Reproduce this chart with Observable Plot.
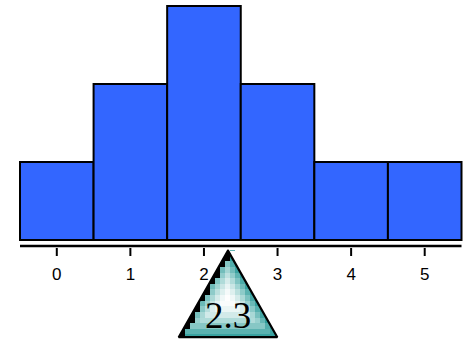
<!DOCTYPE html>
<html>
<head>
<meta charset="utf-8">
<script src="https://cdn.jsdelivr.net/npm/d3@7"></script>
<script src="https://cdn.jsdelivr.net/npm/@observablehq/plot@0.6"></script>
<style>html,body{margin:0;padding:0;background:#fff}svg{display:block}</style>
</head>
<body>
<div id="chart"></div>
<script>
const categories = [0, 1, 2, 3, 4, 5];
const counts = [1, 2, 3, 2, 1, 1];
const meanLabel = "2.3";
const pointerX = 2.32;
const pointerHalfBase = 0.67;
const pointerApexY = -0.13;
const pointerBaseY = -1.24;
const cellW = 0.068;
const cellH = 0.072;
const shades = ["#2f9d9b", "#6cbab8", "#a3d5d3", "#d0e9e8", "#f0f8f8", "#ffffff"];

const bars = categories.map((c, i) => ({x1: c - 0.5, x2: c + 0.5, y: counts[i]}));

const leftEdge = y => pointerX - pointerHalfBase * (pointerApexY - y) / (pointerApexY - pointerBaseY);
const rightEdge = y => pointerX + pointerHalfBase * (pointerApexY - y) / (pointerApexY - pointerBaseY);

const pxX = 73.6, pxY = 78;
const ramp = d3.piecewise(d3.interpolateRgb, shades);
const colorOf = (x, y) => {
  const dBase = (y - pointerBaseY) * pxY;
  const slope = pointerHalfBase * pxX / ((pointerApexY - pointerBaseY) * pxY);
  const norm = Math.sqrt(1 + slope * slope);
  const dSide = Math.min(x - leftEdge(y), rightEdge(y) - x) * pxX / norm;
  const t = Math.min(dBase / 36, dSide / 24);
  return ramp(Math.max(0, Math.min(1, t)));
};
const cells = [];
for (let r = 0; r * cellH < pointerApexY - pointerBaseY; r++) {
  const top = pointerApexY - r * cellH, bottom = Math.max(top - cellH, pointerBaseY);
  for (let k = -11; k <= 11; k++) {
    const l = pointerX + (k - 0.5) * cellW, ri = l + cellW;
    if (l >= leftEdge(top) + 0.015 && l <= rightEdge(bottom)) {
      cells.push({x1: l, x2: ri, y1: bottom, y2: top, fill: colorOf(l + cellW / 2, (top + bottom) / 2)});
    }
  }
}
const pointer = [
  {x: pointerX, y: pointerApexY},
  {x: pointerX + pointerHalfBase, y: pointerBaseY},
  {x: pointerX - pointerHalfBase, y: pointerBaseY},
  {x: pointerX, y: pointerApexY}
];
const mask = [
  {x: pointerX, y: pointerApexY},
  {x: pointerX + pointerHalfBase + 0.1, y: pointerApexY},
  {x: pointerX + pointerHalfBase + 0.1, y: pointerBaseY},
  {x: pointerX + pointerHalfBase, y: pointerBaseY},
  {x: pointerX, y: pointerApexY}
];

const chart = Plot.plot({
  width: 464,
  height: 339,
  marginTop: 0,
  marginRight: 0,
  marginLeft: 0,
  marginBottom: 91,
  style: {background: "#fff", overflow: "visible"},
  x: {type: "linear", domain: [-0.5, 5.5], range: [20, 461.5], axis: null},
  y: {domain: [0, 3], range: [240, 6], axis: null},
  marks: [
    Plot.rect(bars, {x1: "x1", x2: "x2", y1: 0, y2: "y", fill: "#3366ff", stroke: "#000", strokeWidth: 2}),
    Plot.ruleY([-0.07], {x1: -0.5, x2: 5.5, stroke: "#000", strokeWidth: 2.4}),
    Plot.line(pointer, {x: "x", y: "y", fill: "#000", stroke: null}),
    Plot.rect(cells, {x1: "x1", x2: "x2", y1: "y1", y2: "y2", fill: d => d.fill, shapeRendering: "crispEdges"}),
    Plot.line(mask, {x: "x", y: "y", fill: "#fff", stroke: null}),
    Plot.line(pointer, {x: "x", y: "y", stroke: "#000", strokeWidth: 2.2, strokeLinejoin: "miter"}),
    Plot.axisX({
      anchor: "bottom",
      ticks: categories,
      tickFormat: d => String(d),
      tickSize: 8,
      tickPadding: 11,
      strokeWidth: 2,
      fontSize: 17,
      fontFamily: "Liberation Sans",
      fill: "#000",
      dx: -0.5,
      label: null
    }),
    Plot.text([meanLabel], {
      x: pointerX,
      y: pointerBaseY + 0.27,
      text: d => d,
      fontFamily: "Liberation Serif",
      fontSize: 37,
      fill: "#000",
      stroke: null
    })
  ]
});
document.getElementById("chart").append(chart);
</script>
</body>
</html>
